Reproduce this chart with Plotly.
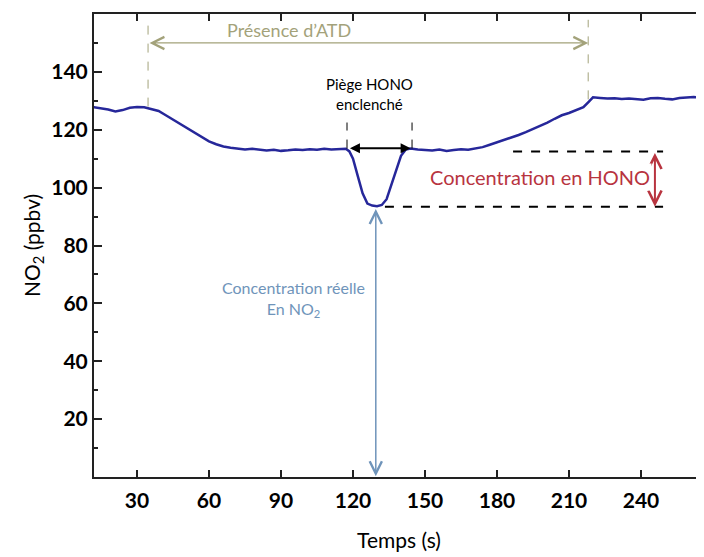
import plotly.graph_objects as go

# NO2 signal (s, ppbv)
time_s = [12, 15, 18, 21, 24, 27, 30, 33, 36, 39, 42, 45, 48, 51, 54, 57, 60, 63, 66, 69,
          72, 75, 78, 81, 84, 87, 90, 93, 96, 99, 102, 105, 108, 111, 114, 117, 118.5, 120,
          122, 124, 126, 128, 130, 132, 134, 136, 138, 140, 142, 144, 147, 150, 153, 156,
          159, 162, 165, 168, 171, 174, 177, 180, 183, 186, 189, 192, 195, 198, 201, 204,
          207, 210, 213, 216, 218, 220, 223, 226, 229, 232, 235, 238, 241, 244, 247, 250,
          253, 256, 259, 262, 265, 268]
no2_ppbv = [127.8, 127.5, 127.0, 126.3, 126.8, 127.6, 127.9, 127.8, 127.2, 126.5, 125.0,
            123.5, 122.0, 120.3, 118.8, 117.2, 116.0, 115.0, 114.2, 113.8, 113.5, 113.2,
            113.4, 113.0, 112.8, 113.1, 112.7, 112.9, 113.2, 113.0, 113.3, 113.1, 113.4,
            113.2, 113.3, 113.4, 112.5, 110.0, 104.0, 98.0, 94.5, 93.8, 93.6, 94.0, 96.0,
            101.0, 106.5, 111.0, 113.2, 113.5, 113.2, 113.0, 112.8, 113.2, 112.7, 113.0,
            113.3, 113.1, 113.5, 114.0, 114.8, 115.6, 116.5, 117.3, 118.2, 119.2, 120.3,
            121.3, 122.5, 123.8, 125.0, 125.8, 126.8, 127.8, 129.5, 131.2, 131.0, 130.8,
            130.9, 130.6, 130.8, 130.5, 130.4, 130.9, 131.0, 130.7, 130.5, 131.0, 131.2,
            131.3, 131.1, 131.3]

x_ticks = [30, 60, 90, 120, 150, 180, 210, 240]
y_ticks = [20, 40, 60, 80, 100, 120, 140]

atd_start, atd_end = 34.6, 218.0
trap_start, trap_end = 117.5, 144.6
no2_min, no2_plateau = 93.4, 112.5

FONT = "Lato"
OLIVE = "#a3a27a"
RED = "#b8343f"
STEEL = "#6f94ba"

fig = go.Figure()
fig.add_trace(go.Scatter(x=time_s, y=no2_ppbv, mode="lines",
                         line=dict(color="#26279a", width=2.5), showlegend=False,
                         hoverinfo="skip"))

shapes = []
# presence d'ATD markers
for xv, ybot in [(atd_start, 128), (atd_end, 130.5)]:
    shapes.append(dict(type="line", x0=xv, x1=xv, y0=ybot, y1=158,
                       line=dict(color=OLIVE, width=1, dash="dash")))
# trap markers
for xv in [trap_start, trap_end]:
    shapes.append(dict(type="line", x0=xv, x1=xv, y0=113.5, y1=122.5,
                       line=dict(color="black", width=1, dash="dash")))
# HONO concentration guides
shapes.append(dict(type="line", x0=186.7, x1=249.2, y0=no2_plateau, y1=no2_plateau,
                   line=dict(color="black", width=2, dash="dash")))
shapes.append(dict(type="line", x0=133.3, x1=249.2, y0=no2_min, y1=no2_min,
                   line=dict(color="black", width=2, dash="dash")))

annotations = []


def double_arrow(x0, y0, x1, y1, color, width, head, size):
    return dict(x=x1, y=y1, ax=x0, ay=y0, xref="x", yref="y", axref="x", ayref="y",
                text="", showarrow=True, arrowside="end+start", arrowhead=head,
                startarrowhead=head, arrowsize=size, startarrowsize=size,
                arrowwidth=width, arrowcolor=color)


annotations.append(double_arrow(atd_start, 150, atd_end, 150, OLIVE, 1.2, 5, 2))
annotations.append(double_arrow(trap_start + 0.6, 113.6, trap_end - 0.6, 113.6, "black", 2, 2, 1))
annotations.append(double_arrow(245.8, no2_plateau, 245.8, no2_min, RED, 2, 5, 1.3))
annotations.append(double_arrow(129.5, no2_min - 0.3, 129.5, 0.3, STEEL, 1.5, 5, 1.6))

annotations.append(dict(x=93.5, y=154.5, xref="x", yref="y", showarrow=False,
                        text="Présence d’ATD", font=dict(family=FONT, size=18, color=OLIVE)))
annotations.append(dict(x=127, y=132.5, xref="x", yref="y", showarrow=False,
                        text="Piège HONO<br>enclenché",
                        font=dict(family=FONT, size=15, color="black")))
annotations.append(dict(x=198, y=103.8, xref="x", yref="y", showarrow=False,
                        text="Concentration en HONO", bgcolor="white",
                        font=dict(family=FONT, size=20, color=RED)))
annotations.append(dict(x=95, y=61.5, xref="x", yref="y", showarrow=False,
                        text="Concentration réelle<br>En NO<sub>2</sub>",
                        font=dict(family=FONT, size=16, color=STEEL)))

# page body adds an 8px offset, so the figure is sized to end at the window edge
fig.update_layout(
    width=696, height=549,
    margin=dict(l=86, r=0, t=6, b=80),
    paper_bgcolor="white", plot_bgcolor="white",
    font=dict(family=FONT, color="black"),
    shapes=shapes, annotations=annotations,
    showlegend=False,
)
fig.update_xaxes(range=[12.08, 266.25], tickvals=x_ticks, ticks="inside", ticklen=7,
                 tickwidth=2, tickcolor="#222", showline=True, linecolor="#222",
                 linewidth=2, mirror="ticks", showgrid=False, zeroline=False,
                 automargin=False, ticklabelstandoff=4,
                 tickfont=dict(family=FONT, size=21, color="black", weight="bold"),
                 title=dict(text="Temps (s)", font=dict(family=FONT, size=21), standoff=22))
fig.update_yaxes(range=[0, 160], tickvals=y_ticks, ticks="inside", ticklen=8,
                 tickwidth=2, tickcolor="#222", showline=True, linecolor="#222",
                 linewidth=2, showgrid=False, zeroline=False, automargin=False,
                 minor=dict(tickvals=[10, 30, 50, 70, 90, 110, 130, 150], ticks="inside",
                            ticklen=4, tickwidth=2, tickcolor="#222"),
                 tickfont=dict(family=FONT, size=21, color="black", weight="bold"),
                 title=dict(text="NO<sub>2</sub> (ppbv)", font=dict(family=FONT, size=21),
                            standoff=5))

fig.write_html("out.html")
